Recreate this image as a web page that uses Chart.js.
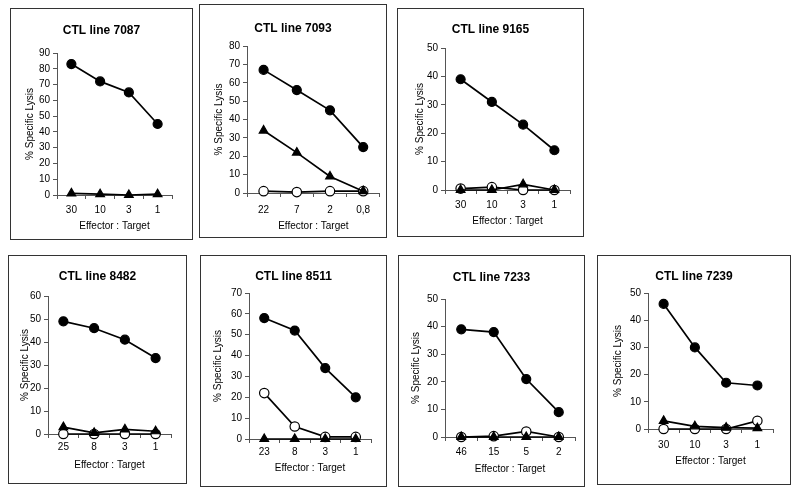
<!DOCTYPE html>
<html>
<head>
<meta charset="utf-8">
<script src="https://cdn.jsdelivr.net/npm/chart.js@4/dist/chart.umd.min.js"></script>
<style>
  html, body { margin: 0; padding: 0; background: #ffffff; }
  body { width: 800px; height: 488px; position: relative; overflow: hidden; }
  .panel { position: absolute; border: 1px solid #333; box-sizing: border-box; background: #fff; }
  .panel canvas { position: absolute; left: 0; top: 0; }
</style>
</head>
<body>
<script>
// ---------------- DATA ----------------
const lineNames = ['7087', '7093', '9165', '8482', '8511', '7233', '7239'];

const ratios_7087 = ['30', '10', '3', '1'];
const filled_7087 = [83, 72, 65, 45];
const triangle_7087 = [1, 0.5, 0, 0.5];
const open_7087 = [null, null, null, null];
const yMax_7087 = 90;

const ratios_7093 = ['22', '7', '2', '0,8'];
const filled_7093 = [67, 56, 45, 25];
const triangle_7093 = [34, 22, 9, 1];
const open_7093 = [1, 0.5, 1, 1];
const yMax_7093 = 80;

const ratios_9165 = ['30', '10', '3', '1'];
const filled_9165 = [39, 31, 23, 14];
const triangle_9165 = [0, 0, 2, 0];
const open_9165 = [0.5, 1, 0, 0];
const yMax_9165 = 50;

const ratios_8482 = ['25', '8', '3', '1'];
const filled_8482 = [49, 46, 41, 33];
const triangle_8482 = [3, 0.5, 2, 1.2];
const open_8482 = [0, 0, 0, 0];
const yMax_8482 = 60;

const ratios_8511 = ['23', '8', '3', '1'];
const filled_8511 = [58, 52, 34, 20];
const triangle_8511 = [0, 0, 0, 0];
const open_8511 = [22, 6, 1, 1];
const yMax_8511 = 70;

const ratios_7233 = ['46', '15', '5', '2'];
const filled_7233 = [39, 38, 21, 9];
const triangle_7233 = [0, 0, 0, 0];
const open_7233 = [0, 0.3, 2, 0];
const yMax_7233 = 50;

const ratios_7239 = ['30', '10', '3', '1'];
const filled_7239 = [46, 30, 17, 16];
const triangle_7239 = [3, 1, 0.5, 0.3];
const open_7239 = [0, 0, 0, 3];
const yMax_7239 = 50;

const yStep = 10;
const xTitle = 'Effector : Target';
const yTitle = '% Specific Lysis';
const titlePrefix = 'CTL line ';

// ---------------- LAYOUT (page pixels) ----------------
const layouts = [
  {x:10,  y:8,   w:183, h:232, L:57,  R:172, T:53,  B:195, tcy:29,  lcy:210, xtcy:226, ytcx:30},
  {x:199, y:4,   w:188, h:234, L:247, R:382, T:46,  B:193, tcy:27,  lcy:210, xtcy:226, ytcx:219},
  {x:397, y:8,   w:187, h:229, L:445, R:570, T:48,  B:190, tcy:28,  lcy:205, xtcy:221, ytcx:420},
  {x:8,   y:255, w:179, h:229, L:48,  R:171, T:296, B:434, tcy:275, lcy:447, xtcy:465, ytcx:25},
  {x:200, y:255, w:187, h:232, L:249, R:371, T:293, B:439, tcy:275, lcy:452, xtcy:468, ytcx:218},
  {x:398, y:255, w:187, h:232, L:445, R:575, T:299, B:437, tcy:276, lcy:452, xtcy:469, ytcx:416},
  {x:597, y:255, w:194, h:230, L:648, R:773, T:293, B:429, tcy:275, lcy:445, xtcy:461, ytcx:618}
];

const panelData = [
  [ratios_7087, filled_7087, triangle_7087, open_7087, yMax_7087],
  [ratios_7093, filled_7093, triangle_7093, open_7093, yMax_7093],
  [ratios_9165, filled_9165, triangle_9165, open_9165, yMax_9165],
  [ratios_8482, filled_8482, triangle_8482, open_8482, yMax_8482],
  [ratios_8511, filled_8511, triangle_8511, open_8511, yMax_8511],
  [ratios_7233, filled_7233, triangle_7233, open_7233, yMax_7233],
  [ratios_7239, filled_7239, triangle_7239, open_7239, yMax_7239]
];

const FONT = "'Liberation Sans', Arial, Helvetica, sans-serif";
const TICK_LEN = 4;
const AXIS_COLOR = '#555';

Chart.defaults.font.family = FONT;
Chart.defaults.color = '#000';
Chart.defaults.animation = false;

lineNames.forEach((name, i) => {
  const g = layouts[i];
  const [labels, filled, tri, open, yMax] = panelData[i];
  const div = document.createElement('div');
  div.className = 'panel';
  div.style.left = g.x + 'px';
  div.style.top = g.y + 'px';
  div.style.width = g.w + 'px';
  div.style.height = g.h + 'px';
  document.body.appendChild(div);
  const W = g.w - 2, H = g.h - 2;
  const ox = g.x + 1, oy = g.y + 1;
  const cv = document.createElement('canvas');
  cv.width = W; cv.height = H;
  cv.style.width = W + 'px'; cv.style.height = H + 'px';
  div.appendChild(cv);

  const L = g.L - ox, R = g.R - ox, T = g.T - oy, B = g.B - oy;
  const tcy = g.tcy - oy + 1.5;
  const lcy = g.lcy - oy;
  const xtcy = g.xtcy - oy;
  const ytcx = g.ytcx - ox;

  const common = {
    borderColor: '#000',
    borderWidth: 1.7,
    pointBorderColor: '#000',
    pointBorderWidth: 1.2,
    tension: 0,
    clip: false
  };

  new Chart(cv, {
    type: 'line',
    data: {
      labels: labels,
      datasets: [
        Object.assign({}, common, {
          label: 'filled', data: filled,
          pointStyle: 'circle', pointRadius: 4.5, pointBackgroundColor: '#000'
        }),
        Object.assign({}, common, {
          label: 'triangle', data: tri,
          pointStyle: 'triangle', pointRadius: 5, pointBackgroundColor: '#000'
        }),
        Object.assign({}, common, {
          label: 'open', data: open,
          pointStyle: 'circle', pointRadius: 4.7, pointBackgroundColor: '#fff'
        })
      ]
    },
    options: {
      responsive: false,
      maintainAspectRatio: false,
      animation: false,
      events: [],
      layout: { padding: 0 },
      plugins: {
        legend: { display: false },
        tooltip: { enabled: false },
        title: {
          display: true,
          text: titlePrefix + name,
          color: '#000',
          font: { family: FONT, size: 12, weight: 'bold', lineHeight: 1.2 },
          padding: { top: tcy - 7.2, bottom: T - tcy - 7.2 }
        }
      },
      scales: {
        x: {
          type: 'category',
          offset: true,
          grid: {
            display: true, drawOnChartArea: false, drawTicks: true,
            tickLength: TICK_LEN, offset: true, color: AXIS_COLOR, lineWidth: 1
          },
          border: { display: true, color: AXIS_COLOR, width: 1 },
          ticks: {
            color: '#000', font: { family: FONT, size: 10 },
            padding: Math.max(0, lcy - B - TICK_LEN - 6),
            maxRotation: 0, autoSkip: false
          },
          title: {
            display: true, text: xTitle, color: '#000',
            font: { family: FONT, size: 10, lineHeight: 1.2 },
            padding: { top: 0, bottom: H - xtcy - 6 }
          },
          afterFit: (s) => { s.height = H - B; }
        },
        y: {
          position: 'left',
          min: 0, max: yMax,
          grid: {
            display: true, drawOnChartArea: false, drawTicks: true,
            tickLength: TICK_LEN, color: AXIS_COLOR, lineWidth: 1
          },
          border: { display: true, color: AXIS_COLOR, width: 1 },
          ticks: {
            stepSize: yStep, color: '#000', font: { family: FONT, size: 10 }, padding: 3
          },
          title: {
            display: true, text: yTitle, color: '#000',
            font: { family: FONT, size: 10, lineHeight: 1.2 },
            padding: { top: ytcx - 6, bottom: 0 }
          },
          afterFit: (s) => { s.width = L; }
        },
        spacer: {
          position: 'right',
          type: 'linear',
          display: true,
          min: 0, max: yMax,
          grid: { display: false, drawTicks: false },
          border: { display: false },
          ticks: { display: false },
          title: { display: false },
          afterFit: (s) => { s.width = W - R; }
        }
      }
    }
  });
});
</script>
</body>
</html>
